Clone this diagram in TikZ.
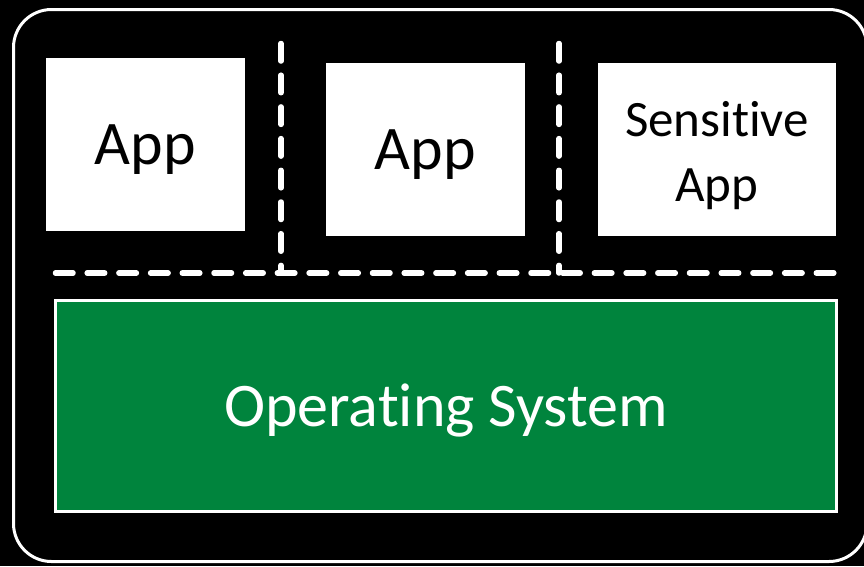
\documentclass[tikz,border=0pt]{standalone}
\usepackage{fontspec}
\setmainfont{Carlito}[Ligatures=NoCommon]
\definecolor{osgreen}{RGB}{0,132,61}
\begin{document}
\begin{tikzpicture}[x=1pt,y=-1pt,
  appbox/.style={fill=white, draw=none, inner sep=0pt, minimum width=199pt,
    minimum height=173pt, align=center, text=black,
    text height=40pt, text depth=0pt,
    font=\fontsize{62}{70}\selectfont},
  osbox/.style={fill=osgreen, draw=white, line width=3pt, inner sep=0pt,
    minimum width=781pt, minimum height=211pt, text=white,
    text height=40pt, text depth=0pt,
    font=\fontsize{62}{70}\selectfont},
  divider/.style={draw=white, line width=5.5pt, line cap=round,
    dash pattern=on 17.5pt off 14.2pt},
]
% canvas
\fill[black] (0,0) rectangle (864,566);
\useasboundingbox (0,0) rectangle (864,566);

% device frame
\draw[white, line width=3pt, rounded corners=38pt] (13.5,9.5) rectangle (867,561.5);

% applications
\node[appbox] (app1) at (145.5,144.5) {App};
\node[appbox] (app2) at (425.5,149.5) {App};
\node[fill=white, inner sep=0pt, minimum width=238pt, minimum height=173pt]
  (sens) at (717,149.5) {};
\node[align=center, text=black, font=\fontsize{51}{65}\selectfont]
  (senslabel) at ([yshift=-6pt]sens.center) {Sensitive\\App};

% operating system
\node[osbox] (os) at (446,406) {Operating System};

% isolation boundaries
\coordinate (hl) at (55.5,273);
\coordinate (hr) at (835.5,273);
\coordinate (v1t) at (281,43.5);
\coordinate (v1b) at (281,273);
\coordinate (v2t) at (559,43.5);
\coordinate (v2b) at (559,273);
\draw[divider] (hl) -- (hr);
\draw[divider] (v1t) -- (v1b);
\draw[divider] (v2t) -- (v2b);
\end{tikzpicture}
\end{document}
